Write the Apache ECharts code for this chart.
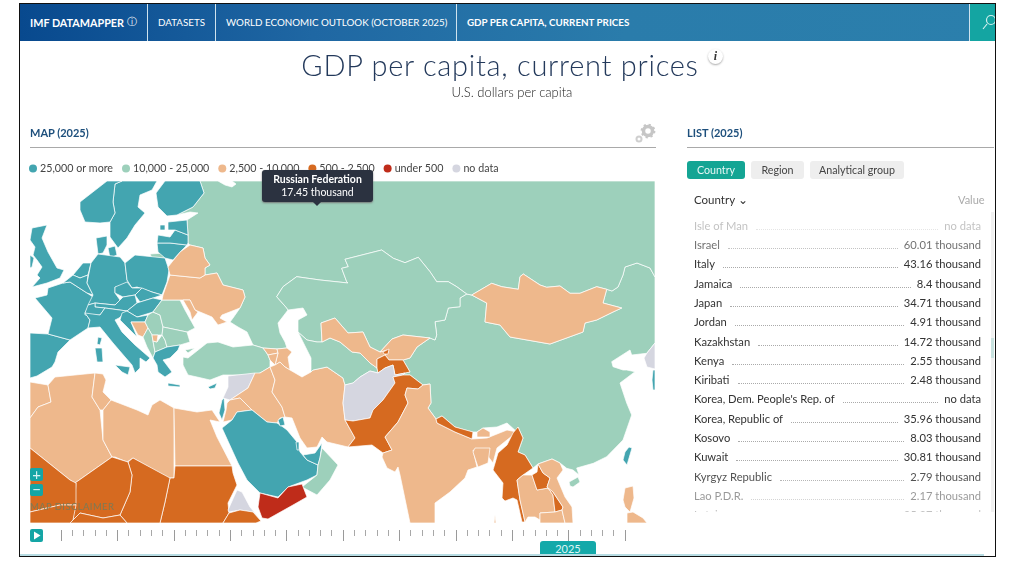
<!DOCTYPE html>
<html lang="en">
<head>
<meta charset="UTF-8">
<title>GDP per capita, current prices</title>
<script src="https://cdn.jsdelivr.net/npm/echarts@6/dist/echarts.min.js"></script>
<style>
html,body{margin:0;padding:0;background:#fff;font-family:Lato,"Open Sans",sans-serif;color:#333;}
#page{position:relative;width:1012px;height:573px;overflow:hidden;}
#main{position:absolute;left:0;top:0;width:1012px;height:573px;}
.abs{position:absolute;white-space:nowrap;z-index:2;}
#frame{position:absolute;left:19px;top:3px;width:975px;height:552px;border:1.5px solid #111;z-index:5;pointer-events:none;}
#hdr{position:absolute;left:20px;top:4px;width:974px;height:37px;background:linear-gradient(90deg,#08498e 0%,#1f67a3 30%,#2a7cab 62%,#2b7fac 100%);z-index:2;}
.hd{position:absolute;top:15px;color:#fff;font-size:9.8px;line-height:12px;white-space:nowrap;}
.sep{position:absolute;top:4px;width:1px;height:37px;background:#cfe3ee;z-index:3;}
.sec{font-weight:700;font-size:11px;color:#1d4f7c;}
.rule{position:absolute;height:1px;background:#a9a9a9;z-index:2;}
.btn{position:absolute;top:161px;height:18px;line-height:18px;text-align:center;font-size:10.7px;border-radius:3px;background:#eeeeee;color:#444;z-index:2;}
#rows{position:absolute;left:687px;top:216px;width:300px;height:296px;overflow:hidden;z-index:2;}
.row{position:absolute;left:7px;width:287px;height:14px;display:flex;align-items:baseline;font-size:11.2px;line-height:14px;color:#333;}
.row .dots{flex:1;border-bottom:1px dotted #aaa;margin:0 6px 0 8px;height:9px;}
</style>
</head>
<body>
<div id="page">
  <div id="main"></div>
  <div id="hdr">
    <div class="hd" style="left:10px;top:11px;font-weight:700;font-size:10.8px;">IMF DATAMAPPER <span style="font-weight:400;font-size:10px;vertical-align:2px;">&#9432;</span></div>
    <div class="hd" style="left:138px;top:12px;">DATASETS</div>
    <div class="hd" style="left:206px;top:12px;">WORLD ECONOMIC OUTLOOK (OCTOBER 2025)</div>
    <div class="hd" style="left:447px;top:12px;font-weight:700;">GDP PER CAPITA, CURRENT PRICES</div>
    <div style="position:absolute;left:949px;top:0;width:25px;height:37px;background:#14a5a2;overflow:hidden;border-left:1px solid #cfe3ee;">
      <svg width="25" height="37"><circle cx="21" cy="16" r="4.5" fill="none" stroke="#d5f1ef" stroke-width="1.2"/><line x1="17" y1="20" x2="13" y2="25" stroke="#d5f1ef" stroke-width="1.2"/></svg>
    </div>
  </div>
  <div class="sep" style="left:147px;"></div>
  <div class="sep" style="left:215px;"></div>
  <div class="sep" style="left:456px;"></div>

  <div class="abs" style="left:0;width:1000px;text-align:center;top:47px;font-size:29px;line-height:36px;font-weight:300;letter-spacing:.72px;color:#23395b;">GDP per capita, current prices</div>
  <div class="abs" style="left:708px;top:49px;width:15px;height:15px;border-radius:8px;background:#fff;box-shadow:0 1px 2px #aaa;text-align:center;font:italic 700 12px/15px 'Liberation Serif',serif;color:#333;">i</div>
  <div class="abs" style="left:0;width:1024px;text-align:center;top:85px;font-size:13px;line-height:15px;font-weight:300;color:#222;">U.S. dollars per capita</div>

  <div class="abs sec" style="left:30px;top:126px;">MAP (2025)</div>
  <svg class="abs" style="left:634px;top:123px;" width="22" height="22">
    <circle cx="14" cy="8" r="4.5" fill="#fff" stroke="#c6c6c6" stroke-width="3.5"/>
    <circle cx="14" cy="8" r="6.4" fill="none" stroke="#c6c6c6" stroke-width="2" stroke-dasharray="2.2 2.8"/>
    <circle cx="5" cy="16" r="2.5" fill="#fff" stroke="#cfcfcf" stroke-width="2"/>
  </svg>
  <div class="rule" style="left:30px;top:147px;width:626px;"></div>
  <div class="abs sec" style="left:687px;top:126px;">LIST (2025)</div>
  <div class="rule" style="left:687px;top:147px;width:307px;"></div>

  <div class="btn" style="left:687px;width:58px;background:#14a594;color:#e6f7f5;">Country</div>
  <div class="btn" style="left:751px;width:53px;">Region</div>
  <div class="btn" style="left:810px;width:94px;">Analytical group</div>
  <div class="abs" style="left:694px;top:193px;font-size:11.5px;line-height:14px;color:#333;">Country &#8964;</div>
  <div class="abs" style="left:958px;top:193px;font-size:11px;line-height:14px;color:#aaa;">Value</div>
  <div id="rows"></div>
  <div class="abs" style="left:991px;top:212px;width:3px;height:300px;background:#f1f1f1;"></div>
  <div class="abs" style="left:991px;top:338px;width:3px;height:20px;background:#c9e3e0;"></div>

  <!-- map controls -->
  <div class="abs" style="left:30px;top:468px;width:13px;height:13px;background:#14a5a5;color:#d8f3f3;border-radius:2px;text-align:center;font-size:15px;line-height:13px;">+</div>
  <div class="abs" style="left:30px;top:484px;width:13px;height:12px;background:#14a5a5;color:#d8f3f3;border-radius:2px;text-align:center;font-size:15px;line-height:11px;">&#8722;</div>
  <div class="abs" style="left:30px;top:501px;font-size:9.5px;line-height:12px;letter-spacing:.4px;color:#7d7a55;">MAP DISCLAIMER</div>

  <!-- timeline controls -->
  <div class="abs" style="left:30px;top:529px;width:13px;height:13px;background:#14a5a5;border-radius:2px;">
    <svg width="13" height="13" style="display:block"><path d="M4 2.5 L10.5 6.5 L4 10.5 Z" fill="#fff"/></svg>
  </div>
  <div class="abs" style="left:540px;top:541px;width:56px;height:14px;background:#14a9a9;color:#dff6f6;border-radius:3px 3px 0 0;text-align:center;font-size:11px;line-height:15px;">2025</div>
  <div class="abs" style="left:20px;top:554px;width:964px;height:1.5px;background:#b7dce3;"></div>
  <div id="frame"></div>
</div>

<script>
// values are read from the list and tooltip, or estimated from the colour band on the map
var legendLabels = ['25,000 or more', '10,000 - 25,000', '2,500 - 10,000', '500 - 2,500', 'under 500', 'no data'];
var legendColors = ['#43a5b0', '#9dd0bb', '#eeb88c', '#d66a20', '#bf2c1a', '#d5d6e0'];

var mapNames = ['China', 'Russian Federation', 'Kazakhstan', 'Mongolia', 'Finland', 'Sweden', 'Norway', 'Denmark',
  'United Kingdom', 'Ireland', 'Spain', 'France', 'Netherlands', 'Belgium', 'Germany', 'Poland', 'Czech Republic',
  'Slovak Republic', 'Austria', 'Hungary', 'Switzerland', 'Italy', 'Croatia', 'Bosnia and Herzegovina', 'Serbia',
  'Albania', 'North Macedonia', 'Kosovo', 'Romania', 'Bulgaria', 'Greece', 'Cyprus', 'Ukraine', 'Moldova', 'Belarus',
  'Lithuania', 'Latvia', 'Estonia', 'Turkey', 'Georgia', 'Azerbaijan', 'Armenia', 'Syria', 'Iraq', 'Jordan', 'Israel',
  'Saudi Arabia', 'Kuwait', 'Qatar', 'United Arab Emirates', 'Oman', 'Yemen', 'Iran', 'Turkmenistan', 'Uzbekistan',
  'Kyrgyz Republic', 'Tajikistan', 'Afghanistan', 'Pakistan', 'India', 'Nepal', 'Bhutan', 'Bangladesh', 'Myanmar',
  'Thailand', 'Lao P.D.R.', 'Cambodia', 'Vietnam', 'Taiwan', 'Philippines', 'Korea, Dem. People\'s Rep. of',
  'Korea, Republic of', 'Morocco', 'Algeria', 'Tunisia', 'Libya', 'Egypt', 'Sudan', 'Chad', 'Niger', 'Nigeria',
  'Mali', 'Burkina Faso', 'Eritrea', 'Ethiopia'];
var mapValues = [13800, 17450, 14720, 7000, 55000, 64000, 91000, 74000,
  57000, 130000, 36000, 46000, 70000, 58000, 56000, 30000, 34000,
  28000, 60000, 25500, 110000, 43160, 26000, 9700, 15000,
  11000, 10500, 8030, 21000, 19000, 26000, 40000, 6000, 9000, 9500,
  33000, 25300, 34000, 17000, 9000, 7500, 8700, null, 6000, 4910, 60010,
  31000, 30810, 72000, 50000, 20000, 420, 5000, 11000, 3500,
  2790, 1400, null, 1500, 2800, 1500, 4000, 2700, 1200,
  7500, 2170, 2900, 5000, 37000, 4300, null,
  35960, 4300, 5700, 5000, 6000, 3500, 1000, 1200, 800, 1000,
  1200, 1100, null, 1100];

var timelineStart = 1980;
var timelineEnd = 2030;

var listNames = ['Isle of Man', 'Israel', 'Italy', 'Jamaica', 'Japan', 'Jordan', 'Kazakhstan', 'Kenya', 'Kiribati',
  'Korea, Dem. People\'s Rep. of', 'Korea, Republic of', 'Kosovo', 'Kuwait', 'Kyrgyz Republic', 'Lao P.D.R.', 'Latvia'];
var listValues = ['no data', '60.01 thousand', '43.16 thousand', '8.4 thousand', '34.71 thousand', '4.91 thousand',
  '14.72 thousand', '2.55 thousand', '2.48 thousand', 'no data', '35.96 thousand', '8.03 thousand', '30.81 thousand',
  '2.79 thousand', '2.17 thousand', '25.37 thousand'];

// country outlines for this view of the map (no world map file is available offline)
var outlines = {
  'China': [[[655,277],[650,268],[637,263],[625,267],[623,275],[618,287],[612,291],[606.7,289.3],[603,303],[621.7,308],[613,312],[596.7,320],[585,323],[583,332],[550,344],[510,337],[500,325],[485,322],[486.7,303],[471.7,295],[466.7,294],[460,298],[460,306.7],[448.3,308],[445,320],[435,321.7],[436.7,335],[435,340],[430,338],[417,347],[410,358],[403,360],[410,372],[405,373],[403,375],[410,375],[423,385],[430,384],[431,403],[428,408],[436,419],[442,416],[455,427],[472,432],[477,432],[483,428],[497,427],[507,423],[517,432],[518,427],[523,438],[518,452],[525,455],[533,468],[538,464],[552,459],[560,463],[566.7,468.3],[573,470],[579,475],[576.7,468],[593.3,463.3],[606.7,456.7],[623,440],[631.7,415],[626.7,403],[620,383],[635,371.7],[626.7,370],[623,370],[613,366.7],[611.7,361.7],[630,350],[631.7,355],[646.7,353.3],[655,343]],
    [[569,482],[578,477],[580,482],[573,487],[570,486]]],
  'Russian Federation': [[[200,181],[218,181],[225,185],[232,187],[236,184],[232,181],[655,181],[655,277],[650,268],[637,263],[625,267],[623,275],[618,287],[612,291],[606.7,289.3],[596.7,286.7],[580,293.3],[570,293.3],[560,286],[546.7,287.3],[540,285],[523.3,274],[520,276.7],[518.3,289.3],[501.7,286.7],[491.7,283.3],[471.7,295],[466.7,294],[456.7,286.7],[448.3,281.7],[436.7,281.7],[430,271.7],[418.3,257.3],[405,262.7],[393.3,258.3],[381.7,250],[345,259.3],[348.3,266.7],[341.7,268.3],[346.7,281.7],[348,283],[320,280],[296.7,276.7],[283,286.7],[276.7,296.7],[286.7,308],[288,310],[278,323],[280,333],[285,342],[287,348],[277,349],[263,348],[253,345],[247,332],[238,327],[230,322],[233,318],[240,308],[245,297],[243,290],[223,285],[217,273],[205,275],[205,268],[210,265],[205,258],[203,248],[190,245],[188,243],[188,235],[187,220],[198,213],[190,212],[177,215],[193,207],[204,193]],
    [[150,254],[165,253],[165,258],[152,258]]],
  'Kazakhstan': [[[288,310],[286.7,308],[276.7,296.7],[283,286.7],[296.7,276.7],[320,280],[348,283],[346.7,281.7],[341.7,268.3],[348.3,266.7],[345,259.3],[381.7,250],[393.3,258.3],[405,262.7],[418.3,257.3],[430,271.7],[436.7,281.7],[448.3,281.7],[456.7,286.7],[466.7,294],[460,298],[460,306.7],[448.3,308],[445,320],[435,321.7],[436.7,335],[435,340],[430,338],[403,335],[392,339],[380,352],[370,347],[363,332],[348,333],[335,318],[321,323],[322,342],[317,342],[307,340],[298,332],[298,320],[307,315],[303,308]]],
  'Mongolia': [[[471.7,295],[491.7,283.3],[501.7,286.7],[518.3,289.3],[520,276.7],[523.3,274],[540,285],[546.7,287.3],[560,286],[570,293.3],[580,293.3],[596.7,286.7],[606.7,289.3],[603,303],[621.7,308],[613,312],[596.7,320],[585,323],[583,332],[550,344],[510,337],[500,325],[485,322],[486.7,303]]],
  'Finland': [[[172,181],[200,181],[204,193],[193,207],[177,215],[167,216],[158,207],[156,193],[165,181]]],
  'Sweden': [[[122,181],[157,181],[152,190],[140,195],[138,207],[145,213],[135,225],[127,238],[118,248],[110,237],[110,222],[115,213],[113,202],[115,184]]],
  'Norway': [[[107,181],[122,181],[115,184],[113,202],[115,213],[110,222],[100,223],[85,222],[80,210],[80,202],[98,188]]],
  'Denmark': [[[96,238],[107,236],[107,245],[103,253],[98,254]], [[108,248],[115,246],[117,255],[110,258]]],
  'United Kingdom': [[[32,228],[47,225],[42,238],[48,252],[57,268],[64,270],[60,278],[47,283],[32,287],[40,278],[37,275],[42,267],[37,260],[33,255],[35,247],[30,240]]],
  'Ireland': [[[30,255],[34,258],[32,267],[30,268]]],
  'Spain': [[[30,333],[48,334],[70,340],[58,352],[55,362],[52,367],[37,376],[30,378]]],
  'France': [[[35,298],[47,295],[48,288],[63,283],[70,282],[87,293],[93,297],[85,313],[90,320],[88,328],[70,340],[48,334],[52,318]], [[98,337],[102,338],[100,345],[97,344]]],
  'Netherlands': [[[73,275],[83,263],[91,263],[88,275],[80,278]]],
  'Belgium': [[[63,283],[73,275],[80,278],[88,275],[87,283],[93,295],[87,293],[70,282]]],
  'Germany': [[[98,254],[120,257],[125,263],[127,280],[132,288],[115,287],[115,293],[120,300],[115,305],[95,303],[88,305],[93,295],[87,283],[91,263]]],
  'Poland': [[[125,263],[135,255],[165,258],[169,270],[167,282],[162,295],[152,292],[137,287],[132,288],[127,280]]],
  'Czech Republic': [[[115,287],[127,282],[132,288],[142,288],[135,295],[123,297],[115,293]]],
  'Slovak Republic': [[[142,288],[152,292],[162,295],[153,298],[140,302],[135,295]]],
  'Austria': [[[115,305],[120,300],[123,297],[135,295],[137,303],[127,311],[105,308],[95,307],[95,303]]],
  'Hungary': [[[137,303],[140,302],[153,298],[162,300],[153,312],[137,317],[127,311]]],
  'Switzerland': [[[88,305],[95,303],[95,307],[105,308],[100,315],[85,315],[85,313]]],
  'Italy': [[[90,320],[85,313],[100,315],[105,308],[127,311],[119,318],[115,320],[122,332],[135,345],[150,358],[146,362],[140,358],[140,368],[135,373],[132,365],[125,357],[113,343],[100,327],[88,328]],
    [[95,348],[102,348],[103,362],[97,362]], [[115,365],[130,367],[128,375],[122,372]]],
  'Croatia': [[[122,313],[127,311],[137,317],[148,315],[145,322],[131,322],[137,337],[120,320]]],
  'Bosnia and Herzegovina': [[[131,322],[145,322],[148,328],[143,337],[138,335]]],
  'Serbia': [[[145,322],[148,315],[153,312],[160,315],[163,327],[162,335],[152,335],[148,328]]],
  'Albania': [[[143,337],[148,328],[152,335],[153,341],[155,352],[153,358],[147,347]]],
  'North Macedonia': [[[153,341],[157,342],[162,335],[165,340],[167,347],[155,352]]],
  'Kosovo': [[[152,335],[158,335],[157,342],[153,341]]],
  'Romania': [[[153,312],[162,300],[180,300],[185,310],[195,328],[187,332],[163,327],[160,315]]],
  'Bulgaria': [[[163,327],[187,332],[190,342],[180,345],[167,347],[165,340],[162,335]]],
  'Greece': [[[153,358],[155,352],[167,347],[180,345],[178,350],[170,358],[163,360],[172,372],[165,377],[158,372],[157,365]], [[168,383],[180,385],[180,387],[168,386]]],
  'Cyprus': [[[208,387],[217,383],[215,388],[210,389]]],
  'Ukraine': [[[163,295],[170,275],[200,278],[205,275],[217,273],[223,285],[243,290],[245,297],[240,308],[222,315],[220,318],[227,322],[218,325],[212,317],[200,312],[195,310],[190,300],[180,300],[162,300]]],
  'Moldova': [[[183,300],[190,300],[195,310],[198,312],[192,320],[190,312]]],
  'Belarus': [[[170,275],[168,267],[180,252],[190,245],[203,248],[205,258],[210,265],[205,268],[205,275],[200,278]]],
  'Lithuania': [[[157,243],[170,243],[187,245],[180,252],[173,260],[165,258],[158,252]]],
  'Latvia': [[[157,243],[158,235],[170,237],[175,230],[188,235],[188,243],[187,245],[170,243]]],
  'Estonia': [[[168,222],[187,220],[188,235],[175,230],[168,230]], [[160,225],[165,225],[165,230],[160,230]]],
  'Turkey': [[[183,357],[188,358],[207,343],[218,342],[233,347],[253,345],[263,348],[266,352],[268,355],[270,360],[270,367],[260,373],[253,375],[228,375],[223,375],[210,380],[197,377],[188,375],[183,365]], [[185,350],[195,348],[188,353]]],
  'Georgia': [[[263,348],[277,349],[278,353],[268,355],[266,352]]],
  'Azerbaijan': [[[277,349],[287,348],[292,352],[288,357],[290,370],[285,367],[280,362],[275,365],[278,353]]],
  'Armenia': [[[268,355],[278,353],[275,365],[270,360]]],
  'Syria': [[[228,376],[255,373],[248,388],[230,400],[223,398],[228,387]]],
  'Iraq': [[[230,400],[248,388],[255,373],[260,373],[270,367],[275,380],[272,392],[282,407],[285,417],[280,418],[277,423],[267,422],[252,410],[240,398]]],
  'Jordan': [[[227,403],[230,400],[240,398],[252,410],[237,412],[232,420],[223,422],[226,410]]],
  'Israel': [[[222,400],[224,398],[225,410],[222,420],[219,413]]],
  'Saudi Arabia': [[[232,420],[237,412],[252,410],[267,422],[277,423],[283,427],[287,430],[297,442],[300,452],[307,460],[318,465],[317,475],[307,480],[288,487],[278,497],[260,493],[247,480],[238,463],[222,428]]],
  'Kuwait': [[[278,420],[283,417],[285,425],[280,426]]],
  'Qatar': [[[296,442],[299,442],[299,450],[297,450]]],
  'United Arab Emirates': [[[303,455],[315,453],[322,443],[320,458],[318,465],[307,460]]],
  'Oman': [[[322,448],[338,465],[330,480],[317,495],[302,487],[317,475],[318,465],[320,458]]],
  'Yemen': [[[260,493],[278,498],[288,487],[302,484],[307,497],[293,505],[268,519],[262,518],[258,507]]],
  'Iran': [[[270,367],[275,365],[280,362],[285,367],[290,370],[302,377],[311,372],[313,370],[327,367],[343,378],[345,385],[343,403],[345,420],[355,438],[348,447],[327,442],[322,437],[317,447],[307,448],[300,438],[292,418],[285,417],[282,407],[272,392],[275,380]]],
  'Turkmenistan': [[[298,332],[307,340],[317,342],[322,342],[330,338],[340,342],[352,352],[360,353],[370,363],[377,368],[378,373],[370,371],[360,377],[353,383],[345,385],[343,378],[327,367],[313,370],[311,372],[311,358],[307,350]]],
  'Uzbekistan': [[[321,323],[335,318],[348,333],[363,332],[370,347],[380,352],[387,350],[389,352],[385,355],[377,359],[377,368],[370,363],[360,353],[352,352],[340,342],[330,338],[322,342]]],
  'Kyrgyz Republic': [[[380,352],[392,339],[403,335],[430,338],[417,347],[410,358],[403,360],[389,360],[385,355],[389,352],[387,350]]],
  'Tajikistan': [[[377,359],[385,355],[389,360],[403,360],[410,372],[405,373],[395,375],[393,365],[385,368],[378,373],[377,368]], [[383,352],[389,349],[388,354],[384,354]]],
  'Afghanistan': [[[345,385],[353,383],[360,377],[370,371],[378,373],[385,368],[393,365],[395,375],[405,373],[403,375],[393,377],[395,383],[383,400],[373,410],[370,418],[353,421],[345,420],[343,403]]],
  'Pakistan': [[[345,420],[353,421],[370,418],[373,410],[383,400],[395,383],[393,377],[403,375],[410,375],[423,385],[418,389],[407,388],[405,395],[408,403],[398,422],[385,437],[392,450],[383,453],[372,445],[348,447],[355,438]]],
  'India': [[[408,403],[405,395],[407,388],[418,389],[423,385],[430,384],[431,403],[428,408],[436,419],[437,423],[455,432],[472,439],[487,438],[507,430],[517,432],[507,440],[497,448],[493,463],[487,455],[473,450],[477,467],[468,470],[465,478],[450,492],[435,503],[435,523],[410,523],[400,475],[398,467],[395,472],[387,468],[382,457],[383,453],[392,450],[385,437],[398,422]], [[495,515],[496,523],[494,523]]],
  'Nepal': [[[436,419],[442,416],[455,427],[473,432],[472,439],[455,432],[437,423]]],
  'Bhutan': [[[477,432],[483,428],[490,432],[490,437],[477,437]]],
  'Bangladesh': [[[475,448],[490,448],[488,463],[478,467],[473,452]]],
  'Myanmar': [[[518,427],[523,438],[518,452],[525,455],[533,468],[523,475],[517,480],[520,500],[525,522],[522,522],[517,500],[513,498],[505,501],[502,498],[503,483],[493,470],[498,453],[507,445],[513,433]]],
  'Thailand': [[[517,480],[523,475],[532,475],[537,490],[548,488],[553,495],[555,512],[540,513],[540,520],[535,517],[528,517],[525,522],[520,500]]],
  'Lao P.D.R.': [[[538,464],[543,473],[550,478],[547,487],[553,492],[563,507],[562,510],[555,512],[553,495],[548,488],[537,490],[532,475],[537,472]]],
  'Cambodia': [[[540,513],[555,512],[562,510],[565,523],[540,523]]],
  'Vietnam': [[[538,464],[552,459],[560,463],[563,470],[557,478],[565,497],[572,507],[573,523],[565,523],[562,510],[563,507],[553,492],[547,487],[550,478],[543,473]]],
  'Taiwan': [[[629,447],[632,448],[627,465],[623,460],[625,452]]],
  'Philippines': [[[625,488],[633,486],[634,498],[630,512],[625,507],[623,500]], [[627,513],[633,512],[643,518],[647,523],[627,523]]],
  'Korea, Dem. People\'s Rep. of': [[[655,343],[647,353],[644,358],[647,367],[655,369]]],
  'Korea, Republic of': [[[653,370],[655,370],[655,390],[653,390],[652,380]]],
  'Morocco': [[[30,382],[48,385],[51,402],[38,407],[30,418]]],
  'Algeria': [[[48,385],[55,377],[95,373],[92,397],[100,410],[103,440],[112,457],[75,483],[70,480],[30,448],[30,418],[38,407],[51,402]]],
  'Tunisia': [[[95,373],[103,374],[106,380],[103,392],[111,400],[103,410],[100,410],[92,397]]],
  'Libya': [[[103,410],[111,400],[137,410],[148,415],[152,405],[160,400],[174,408],[174,478],[168,478],[133,458],[127,462],[115,457],[112,457],[103,440]]],
  'Egypt': [[[174,408],[197,412],[212,410],[220,422],[210,420],[217,437],[232,466],[175,466]]],
  'Sudan': [[[175,466],[232,466],[233,473],[237,485],[228,503],[229,513],[223,523],[160,523],[165,502],[170,478],[174,478]]],
  'Chad': [[[170,478],[133,458],[128,462],[132,475],[130,492],[120,515],[127,523],[160,523],[165,502]]],
  'Niger': [[[75,483],[112,457],[128,462],[132,475],[130,492],[120,515],[103,518],[80,513],[73,520],[76,483]]],
  'Nigeria': [[[73,520],[80,513],[103,518],[120,515],[127,523],[70,523]]],
  'Mali': [[[30,448],[70,480],[76,483],[76,505],[60,505],[30,512]]],
  'Burkina Faso': [[[30,512],[60,505],[76,505],[73,520],[70,523],[30,523]]],
  'Eritrea': [[[228,510],[237,490],[242,492],[250,507],[260,519],[253,512],[240,510],[229,512]]],
  'Ethiopia': [[[223,523],[229,513],[240,510],[253,512],[261,521],[256,523]]]
};

var features = mapNames.map(function (name) {
  return {
    type: 'Feature',
    properties: { name: name },
    geometry: {
      type: 'MultiPolygon',
      coordinates: outlines[name].map(function (ring) {
        return [ring.map(function (p) { return [p[0], -p[1]]; })];
      })
    }
  };
});
echarts.registerMap('view', { type: 'FeatureCollection', features: features });

var mapData = mapNames.map(function (name, i) {
  return { name: name, value: mapValues[i] === null ? -1 : mapValues[i] };
});

var myChart = echarts.init(document.getElementById('main'));
myChart.setOption({
  animation: false,
  tooltip: {
    trigger: 'item',
    triggerOn: 'none',
    alwaysShowContent: true,
    position: [262, 170],
    transitionDuration: 0,
    padding: 0,
    borderWidth: 0,
    backgroundColor: 'transparent',
    extraCssText: 'box-shadow:none;z-index:4;',
    formatter: function (p) {
      return '<div style="position:relative;width:111px;height:32px;background:#2b3240;border-radius:3px;box-shadow:0 1px 2px #777;' +
        'text-align:center;color:#fff;font:10.5px/12.5px Lato,sans-serif;padding-top:3px;box-sizing:border-box;">' +
        '<b>' + p.name + '</b><br>' + (p.value / 1000).toFixed(2) + ' thousand' +
        '<div style="position:absolute;left:51px;top:32px;width:0;height:0;border-left:4px solid transparent;' +
        'border-right:4px solid transparent;border-top:4px solid #2b3240;"></div></div>';
    }
  },
  visualMap: {
    type: 'piecewise',
    seriesIndex: 0,
    orient: 'horizontal',
    inverse: true,
    left: 29,
    top: 163,
    padding: 0,
    itemWidth: 8,
    itemHeight: 8,
    itemGap: 9,
    textGap: 3,
    itemSymbol: 'circle',
    selectedMode: false,
    align: 'left',
    textStyle: { fontFamily: 'Lato', fontSize: 10.7, color: '#444' },
    pieces: [
      { min: 25000, label: legendLabels[0], color: legendColors[0] },
      { min: 10000, max: 25000, label: legendLabels[1], color: legendColors[1] },
      { min: 2500, max: 10000, label: legendLabels[2], color: legendColors[2] },
      { min: 500, max: 2500, label: legendLabels[3], color: legendColors[3] },
      { min: 0, max: 500, label: legendLabels[4], color: legendColors[4] },
      { value: -1, label: legendLabels[5], color: legendColors[5] }
    ]
  },
  grid: { left: 61, width: 564, top: 530, height: 12 },
  xAxis: {
    type: 'value',
    position: 'top',
    min: timelineStart,
    max: timelineEnd,
    interval: 5,
    axisLine: { show: false, onZero: false },
    axisLabel: { show: false },
    splitLine: { show: false },
    axisTick: { show: true, inside: true, length: 11, lineStyle: { color: '#9a9a9a', width: 1 } },
    minorTick: { show: true, splitNumber: 5, length: 6, lineStyle: { color: '#a8a8a8', width: 1 } },
    minorSplitLine: { show: false }
  },
  yAxis: { type: 'value', show: false },
  series: [{
    type: 'map',
    map: 'view',
    left: 30,
    top: 181,
    width: 625,
    height: 342,
    aspectScale: 1,
    roam: false,
    label: { show: false },
    itemStyle: { borderColor: '#ffffff', borderWidth: 0.7 },
    emphasis: { disabled: true },
    select: { disabled: true },
    selectedMode: false,
    data: mapData
  }]
});
myChart.dispatchAction({ type: 'showTip', seriesIndex: 0, name: 'Russian Federation' });

// list on the right
var rowTop = [10, 29, 48, 68, 87, 106, 126, 145, 164, 183, 203, 222, 241, 261, 280, 299];
var rowOpacity = [0.3, 0.7, 1, 1, 1, 1, 1, 1, 1, 1, 1, 1, 1, 0.85, 0.5, 0.3];
var rows = document.getElementById('rows');
listNames.forEach(function (name, i) {
  var r = document.createElement('div');
  r.className = 'row';
  r.style.top = (rowTop[i] - 7) + 'px';
  r.style.opacity = rowOpacity[i];
  r.innerHTML = '<span>' + name + '</span><span class="dots"></span><span>' + listValues[i] + '</span>';
  rows.appendChild(r);
});
</script>
</body>
</html>
